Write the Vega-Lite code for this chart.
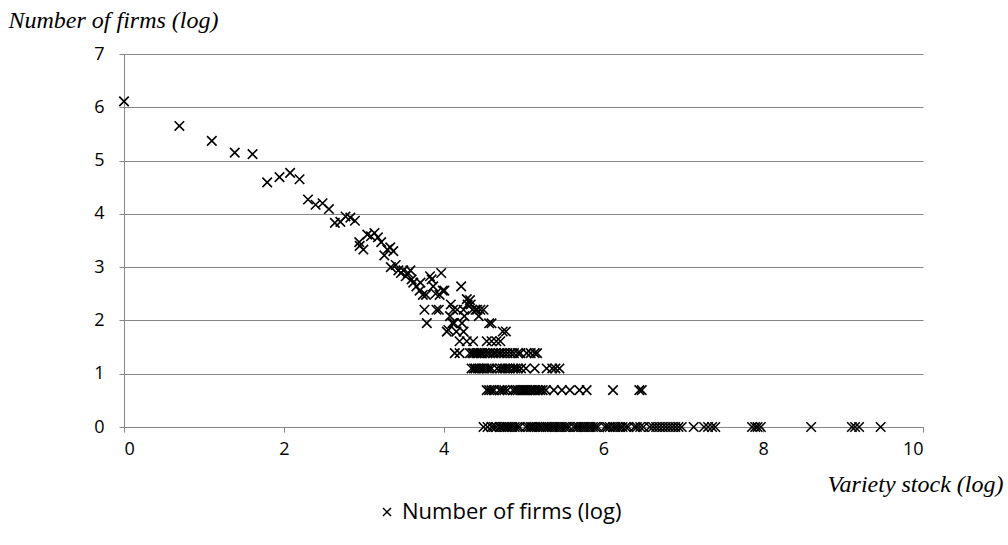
{
  "$schema": "https://vega.github.io/schema/vega-lite/v6.json",
  "width": 799,
  "height": 373,
  "autosize": "none",
  "padding": {"left": 124, "top": 54, "right": 85, "bottom": 118},
  "background": "white",
  "config": {"view": {"stroke": null}},
  "data": {"values": [
    {"x":0,"y":6.11},{"x":0.693,"y":5.65},{"x":1.099,"y":5.37},{"x":1.386,"y":5.15},{"x":1.609,"y":5.12},
    {"x":1.792,"y":4.59},{"x":1.946,"y":4.69},{"x":2.079,"y":4.77},{"x":2.197,"y":4.65},{"x":2.303,"y":4.27},
    {"x":2.398,"y":4.17},{"x":2.485,"y":4.2},{"x":2.565,"y":4.09},{"x":2.639,"y":3.83},{"x":2.708,"y":3.85},
    {"x":2.773,"y":3.95},{"x":2.833,"y":3.93},{"x":2.89,"y":3.87},{"x":2.944,"y":3.47},{"x":2.95,"y":3.4},
    {"x":2.996,"y":3.33},{"x":3.045,"y":3.61},{"x":3.091,"y":3.58},{"x":3.135,"y":3.64},{"x":3.178,"y":3.56},
    {"x":3.219,"y":3.47},{"x":3.258,"y":3.22},{"x":3.296,"y":3.33},{"x":3.332,"y":3.37},{"x":3.34,"y":3.0},
    {"x":3.37,"y":3.3},{"x":3.401,"y":3.04},{"x":3.434,"y":2.94},{"x":3.466,"y":2.89},{"x":3.497,"y":2.94},
    {"x":3.526,"y":2.83},{"x":3.555,"y":2.89},{"x":3.584,"y":2.94},{"x":3.6,"y":2.77},{"x":3.62,"y":2.71},
    {"x":3.66,"y":2.64},{"x":3.7,"y":2.56},{"x":3.71,"y":2.71},{"x":3.74,"y":2.48},{"x":3.78,"y":2.48},
    {"x":3.76,"y":2.2},{"x":3.79,"y":1.95},{"x":3.83,"y":2.83},{"x":3.85,"y":2.77},{"x":3.87,"y":2.64},
    {"x":3.9,"y":2.5},{"x":3.91,"y":2.2},{"x":3.94,"y":2.2},{"x":3.95,"y":2.48},{"x":3.97,"y":2.89},
    {"x":3.99,"y":2.56},{"x":4.01,"y":2.56},{"x":4.04,"y":1.79},{"x":4.06,"y":1.82},{"x":4.08,"y":2.08},
    {"x":4.09,"y":2.3},{"x":4.11,"y":1.95},{"x":4.13,"y":1.95},{"x":4.12,"y":2.2},{"x":4.16,"y":1.79},
    {"x":4.17,"y":2.2},{"x":4.14,"y":1.386},{"x":4.2,"y":1.609},{"x":4.22,"y":2.64},{"x":4.23,"y":1.95},
    {"x":4.25,"y":2.2},{"x":4.26,"y":2.08},{"x":4.25,"y":1.79},{"x":4.29,"y":2.4},{"x":4.3,"y":2.3},
    {"x":4.33,"y":2.38},{"x":4.34,"y":2.3},{"x":4.36,"y":2.2},{"x":4.4,"y":2.2},{"x":4.42,"y":2.2},
    {"x":4.44,"y":2.08},{"x":4.46,"y":2.2},{"x":4.5,"y":2.2},{"x":4.57,"y":1.946},{"x":4.6,"y":1.946},
    {"x":4.74,"y":1.792},{"x":4.78,"y":1.792},{"x":4.29,"y":1.609},{"x":4.37,"y":1.609},{"x":4.54,"y":1.609},
    {"x":4.6,"y":1.609},{"x":4.66,"y":1.609},{"x":4.71,"y":1.609},
    {"x":4.2,"y":1.386},{"x":4.33,"y":1.386},{"x":4.36,"y":1.386},{"x":4.38,"y":1.386},{"x":4.41,"y":1.386},
    {"x":4.43,"y":1.386},{"x":4.46,"y":1.386},{"x":4.48,"y":1.386},{"x":4.51,"y":1.386},{"x":4.55,"y":1.386},
    {"x":4.58,"y":1.386},{"x":4.62,"y":1.386},{"x":4.65,"y":1.386},{"x":4.69,"y":1.386},{"x":4.72,"y":1.386},
    {"x":4.76,"y":1.386},{"x":4.8,"y":1.386},{"x":4.84,"y":1.386},{"x":4.88,"y":1.386},{"x":4.93,"y":1.386},
    {"x":4.96,"y":1.386},{"x":5.04,"y":1.386},{"x":5.09,"y":1.386},{"x":5.14,"y":1.386},{"x":5.17,"y":1.386},
    {"x":4.35,"y":1.099},{"x":4.38,"y":1.099},{"x":4.4,"y":1.099},{"x":4.43,"y":1.099},{"x":4.45,"y":1.099},
    {"x":4.48,"y":1.099},{"x":4.51,"y":1.099},{"x":4.54,"y":1.099},{"x":4.57,"y":1.099},{"x":4.6,"y":1.099},
    {"x":4.67,"y":1.099},{"x":4.71,"y":1.099},{"x":4.74,"y":1.099},{"x":4.77,"y":1.099},{"x":4.8,"y":1.099},
    {"x":4.83,"y":1.099},{"x":4.87,"y":1.099},{"x":4.9,"y":1.099},{"x":4.93,"y":1.099},{"x":4.97,"y":1.099},
    {"x":5.03,"y":1.099},{"x":5.14,"y":1.099},{"x":5.29,"y":1.099},{"x":5.36,"y":1.099},{"x":5.4,"y":1.099},
    {"x":5.45,"y":1.099},
    {"x":4.54,"y":0.693},{"x":4.57,"y":0.693},{"x":4.6,"y":0.693},{"x":4.63,"y":0.693},{"x":4.7,"y":0.693},
    {"x":4.73,"y":0.693},{"x":4.76,"y":0.693},{"x":4.8,"y":0.693},{"x":4.87,"y":0.693},{"x":4.9,"y":0.693},
    {"x":4.93,"y":0.693},{"x":4.96,"y":0.693},{"x":4.99,"y":0.693},{"x":5.01,"y":0.693},{"x":5.03,"y":0.693},
    {"x":5.05,"y":0.693},{"x":5.08,"y":0.693},{"x":5.1,"y":0.693},{"x":5.13,"y":0.693},{"x":5.15,"y":0.693},
    {"x":5.18,"y":0.693},{"x":5.21,"y":0.693},{"x":5.24,"y":0.693},{"x":5.28,"y":0.693},{"x":5.38,"y":0.693},
    {"x":5.48,"y":0.693},{"x":5.58,"y":0.693},{"x":5.7,"y":0.693},{"x":5.79,"y":0.693},{"x":6.12,"y":0.693},
    {"x":6.45,"y":0.693},{"x":6.48,"y":0.693},
    {"x":4.5,"y":0},{"x":4.55,"y":0},{"x":4.6,"y":0},{"x":4.63,"y":0},{"x":4.66,"y":0},{"x":4.7,"y":0},
    {"x":4.72,"y":0},{"x":4.75,"y":0},{"x":4.78,"y":0},{"x":4.8,"y":0},{"x":4.83,"y":0},{"x":4.86,"y":0},
    {"x":4.89,"y":0},{"x":4.92,"y":0},{"x":4.95,"y":0},{"x":5.03,"y":0},{"x":5.06,"y":0},{"x":5.09,"y":0},
    {"x":5.11,"y":0},{"x":5.14,"y":0},{"x":5.17,"y":0},{"x":5.2,"y":0},{"x":5.22,"y":0},{"x":5.25,"y":0},
    {"x":5.28,"y":0},{"x":5.3,"y":0},{"x":5.33,"y":0},{"x":5.36,"y":0},{"x":5.39,"y":0},{"x":5.42,"y":0},
    {"x":5.45,"y":0},{"x":5.48,"y":0},{"x":5.51,"y":0},{"x":5.54,"y":0},{"x":5.57,"y":0},{"x":5.63,"y":0},
    {"x":5.66,"y":0},{"x":5.69,"y":0},{"x":5.72,"y":0},{"x":5.75,"y":0},{"x":5.78,"y":0},{"x":5.81,"y":0},
    {"x":5.84,"y":0},{"x":5.87,"y":0},{"x":5.9,"y":0},{"x":5.93,"y":0},{"x":6.02,"y":0},{"x":6.05,"y":0},
    {"x":6.08,"y":0},{"x":6.12,"y":0},{"x":6.15,"y":0},{"x":6.18,"y":0},{"x":6.21,"y":0},{"x":6.24,"y":0},
    {"x":6.28,"y":0},{"x":6.31,"y":0},{"x":6.39,"y":0},{"x":6.42,"y":0},{"x":6.46,"y":0},{"x":6.5,"y":0},
    {"x":6.58,"y":0},{"x":6.62,"y":0},{"x":6.66,"y":0},{"x":6.7,"y":0},{"x":6.74,"y":0},{"x":6.78,"y":0},
    {"x":6.82,"y":0},{"x":6.86,"y":0},{"x":6.9,"y":0},{"x":6.94,"y":0},{"x":6.98,"y":0},
    {"x":7.13,"y":0},{"x":7.26,"y":0},{"x":7.31,"y":0},{"x":7.36,"y":0},{"x":7.4,"y":0},{"x":7.86,"y":0},
    {"x":7.9,"y":0},{"x":7.93,"y":0},{"x":7.97,"y":0},{"x":8.6,"y":0},{"x":9.11,"y":0},{"x":9.15,"y":0},
    {"x":9.2,"y":0},{"x":9.47,"y":0}
  ]},
  "mark": {"type": "point", "shape": "M-1,-1L1,1M-1,1L1,-1", "filled": false, "size": 90, "strokeWidth": 1.6, "opacity": 1},
  "encoding": {
    "x": {"field": "x", "type": "quantitative",
      "scale": {"domain": [0, 10], "nice": false, "zero": true},
      "axis": {"values": [0, 2, 4, 6, 8, 10], "grid": false, "domainColor": "#868686", "tickColor": "#868686",
        "tickSize": 5, "labelPadding": 8, "labelFont": "Open Sans", "labelFontSize": 18, "labelColor": "black",
        "title": "Variety stock (log)", "titleFont": "Liberation Serif", "titleFontStyle": "italic", "titleFontWeight": "normal",
        "titleFontSize": 24, "titleColor": "black", "titleAnchor": null, "titleAlign": "right", "titleBaseline": "alphabetic",
        "titleX": 879, "titleY": 64}},
    "y": {"field": "y", "type": "quantitative",
      "scale": {"domain": [0, 7], "nice": false},
      "axis": {"values": [0, 1, 2, 3, 4, 5, 6, 7], "grid": true, "gridColor": "#868686", "gridWidth": 1,
        "domainColor": "#868686", "tickColor": "#868686", "tickSize": 5, "labelPadding": 15,
        "labelFont": "Open Sans", "labelFontSize": 18, "labelColor": "black",
        "title": "Number of firms (log)", "titleFont": "Liberation Serif", "titleFontStyle": "italic", "titleFontWeight": "normal",
        "titleFontSize": 24, "titleColor": "black", "titleAngle": 0, "titleAnchor": null, "titleAlign": "left",
        "titleBaseline": "alphabetic", "titleX": -116, "titleY": -27}},
    "color": {"datum": "Number of firms (log)", "type": "nominal", "scale": {"range": ["black"]},
      "legend": {"title": null, "orient": "none", "legendX": 252, "legendY": 447, "symbolType": "M-1,-1L1,1M-1,1L1,-1",
        "symbolSize": 64, "symbolStrokeWidth": 1.5, "symbolFillColor": "transparent", "symbolStrokeColor": "black",
        "labelFont": "Open Sans", "labelFontSize": 22, "labelColor": "black", "labelOffset": 4, "labelLimit": 400}}
  }
}
